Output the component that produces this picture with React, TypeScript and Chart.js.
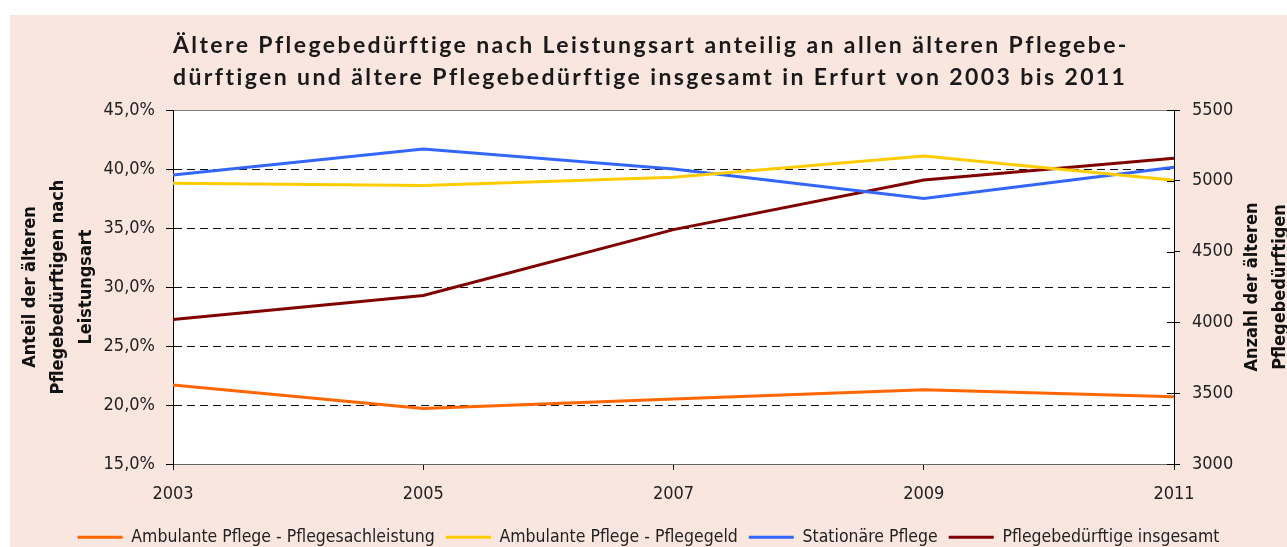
import { useEffect, useRef } from 'react';
import { Chart, registerables } from 'chart.js';

Chart.register(...registerables);

const years = ['2003', '2005', '2007', '2009', '2011'];
const seriesNames = [
  'Ambulante Pflege - Pflegesachleistung',
  'Ambulante Pflege - Pflegegeld',
  'Stationäre Pflege',
  'Pflegebedürftige insgesamt',
];
const sachleistung = [21.7, 19.7, 20.5, 21.3, 20.7];
const pflegegeld = [38.8, 38.6, 39.3, 41.1, 39.05];
const stationaer = [39.5, 41.7, 40.0, 37.5, 40.15];
const insgesamt = [4020, 4190, 4655, 5005, 5160];

const titleLines = [
  'Ältere Pflegebedürftige nach Leistungsart anteilig an allen älteren Pflegebe-',
  'dürftigen und ältere Pflegebedürftige insgesamt in Erfurt von 2003 bis 2011',
];
const leftAxisTitle = ['Anteil der älteren', 'Pflegebedürftigen nach', 'Leistungsart'];
const rightAxisTitle = ['Anzahl der älteren', 'Pflegebedürftigen'];

const pctMin = 15;
const pctMax = 45;
const pctStep = 5;
const countMin = 3000;
const countMax = 5500;
const countStep = 500;

const colors = ['#FF6600', '#FFCC00', '#3366FF', '#800000'];
const FONT = '"DejaVu Sans Condensed", "Liberation Sans", sans-serif';
const TITLE_FONT = 'bold 23px Lato, "DejaVu Sans", sans-serif';

const customPlugin = {
  id: 'customDecor',
  beforeDraw(chart: any) {
    const { ctx, chartArea: a } = chart;
    ctx.save();
    ctx.fillStyle = '#ffffff';
    ctx.fillRect(a.left, a.top, a.right - a.left, a.bottom - a.top);
    ctx.restore();
  },
  afterDraw(chart: any) {
    const { ctx, chartArea: a } = chart;
    // main title
    ctx.save();
    ctx.font = TITLE_FONT;
    try { (ctx as any).letterSpacing = '2.4px'; } catch (e) {}
    ctx.fillStyle = '#1a1a1a';
    ctx.textAlign = 'left';
    ctx.textBaseline = 'alphabetic';
    titleLines.forEach((t, i) => ctx.fillText(t, a.left, a.top - 57 + i * 32));
    ctx.restore();

    // right axis title (reads bottom to top)
    const y1 = chart.scales.y1;
    ctx.save();
    ctx.font = `bold 18px ${FONT}`;
    ctx.fillStyle = '#111111';
    ctx.textAlign = 'center';
    ctx.textBaseline = 'middle';
    const cy = (a.top + a.bottom) / 2;
    rightAxisTitle.forEach((t, i) => {
      ctx.save();
      ctx.translate(y1.right - 35 + i * 28, cy);
      ctx.rotate(-Math.PI / 2);
      ctx.fillText(t, 0, 0);
      ctx.restore();
    });
    ctx.restore();

    // inner part of the right axis tick marks
    ctx.save();
    ctx.strokeStyle = '#000000';
    ctx.lineWidth = 1;
    y1.ticks.forEach((tk: any) => {
      const py = Math.round(y1.getPixelForValue(tk.value)) + 0.5;
      ctx.beginPath();
      ctx.moveTo(y1.left - 7, py);
      ctx.lineTo(y1.left, py);
      ctx.stroke();
    });
    ctx.restore();
  },
};

export default function App() {
  const ref = useRef<HTMLCanvasElement | null>(null);

  useEffect(() => {
    if (!ref.current) return;
    const data = [sachleistung, pflegegeld, stationaer, insgesamt];
    const chart = new Chart(ref.current, {
      type: 'line',
      data: {
        labels: years,
        datasets: data.map((d, i) => ({
          label: seriesNames[i],
          data: d,
          borderColor: colors[i],
          backgroundColor: colors[i],
          borderWidth: 3,
          pointRadius: 0,
          tension: 0,
          fill: false,
          yAxisID: i === 3 ? 'y1' : 'y',
        })),
      },
      options: {
        responsive: false,
        devicePixelRatio: 1,
        animation: false,
        layout: { padding: { top: 95, left: 0, right: 0, bottom: -9 } },
        plugins: {
          title: { display: false },
          tooltip: { enabled: false },
          legend: {
            position: 'bottom',
            labels: {
              boxWidth: 45,
              boxHeight: 3,
              padding: 11,
              color: '#222222',
              font: { family: FONT, size: 17.5 },
              generateLabels: (c: any) =>
                Chart.defaults.plugins.legend.labels
                  .generateLabels(c)
                  .map((l: any) => ({ ...l, fillStyle: l.strokeStyle, lineWidth: 0 })),
            },
          },
        },
        scales: {
          x: {
            type: 'category',
            offset: false,
            afterFit: (s: any) => { s.height = 53.5; },
            grid: { drawOnChartArea: false, tickLength: 6, tickColor: '#000000' },
            border: { color: '#666666', width: 1 },
            ticks: { color: '#222222', padding: 14, font: { family: FONT, size: 18 }, maxRotation: 0, autoSkip: false },
          },
          y: {
            position: 'left',
            min: pctMin,
            max: pctMax,
            afterFit: (s: any) => { s.width = 163; },
            ticks: {
              stepSize: pctStep,
              padding: 11,
              color: '#222222',
              font: { family: FONT, size: 18 },
              callback: (v: any) => Number(v).toFixed(1).replace('.', ',') + '%',
            },
            grid: {
              tickLength: 7,
              tickColor: '#000000',
              color: (c: any) =>
                c.tick && c.tick.value === pctMax ? '#808080' : c.tick && c.tick.value === pctMin ? 'rgba(0,0,0,0)' : '#111111',
            },
            border: {
              color: '#000000',
              width: 1,
              dash: (c: any) => (c.tick && c.tick.value !== pctMax ? [8, 5] : []),
            },
            title: {
              display: true,
              text: leftAxisTitle,
              color: '#111111',
              font: { family: FONT, size: 18, weight: 'bold', lineHeight: 1.53 },
              padding: { top: 7, bottom: 0 },
            },
          },
          y1: {
            position: 'right',
            min: countMin,
            max: countMax,
            afterFit: (s: any) => { s.width = 113; },
            ticks: {
              stepSize: countStep,
              padding: 12,
              color: '#222222',
              font: { family: FONT, size: 18 },
              callback: (v: any) => String(v),
            },
            grid: { drawOnChartArea: false, tickLength: 6, tickColor: '#000000' },
            border: { color: '#000000', width: 1 },
          },
        },
      },
      plugins: [customPlugin],
    } as any);
    return () => chart.destroy();
  }, []);

  return (
    <div style={{ position: 'absolute', left: 10, top: 15 }}>
      <canvas
        ref={ref}
        width={1277}
        height={532}
        style={{ display: 'block', width: 1277, height: 532, background: '#F9E6DF' }}
      />
    </div>
  );
}
